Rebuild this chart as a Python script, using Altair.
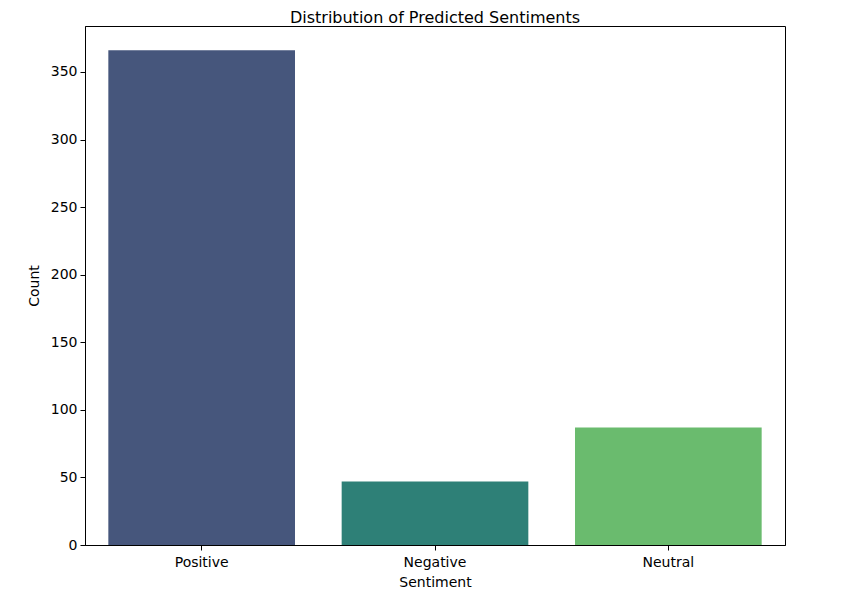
import altair as alt
import pandas as pd

sentiments = ["Positive", "Negative", "Neutral"]
counts = [366, 47, 87]
colors = ["#46567C", "#2E8077", "#6ABB6E"]

df = pd.DataFrame({"Sentiment": sentiments, "Count": counts})

chart = alt.Chart(df).mark_bar().encode(
    x=alt.X("Sentiment:N", sort=sentiments,
            scale=alt.Scale(paddingInner=0.2, paddingOuter=0.1),
            axis=alt.Axis(labelAngle=0, title="Sentiment")),
    y=alt.Y("Count:Q", scale=alt.Scale(domain=[0, 384], nice=False),
            axis=alt.Axis(values=[0, 50, 100, 150, 200, 250, 300, 350], title="Count")),
    color=alt.Color("Sentiment:N", scale=alt.Scale(domain=sentiments, range=colors), legend=None),
).properties(
    width=700, height=519,
    title=alt.TitleParams("Distribution of Predicted Sentiments", fontSize=16, font="DejaVu Sans",
                          fontWeight="normal", color="black", offset=0),
    autosize=alt.AutoSizeParams(type="none"),
    padding={"left": 77, "top": 18, "right": 40, "bottom": 50},
).configure_view(
    stroke="black", strokeWidth=1
).configure_axis(
    grid=False, domainColor="black", tickColor="black", tickSize=5,
    labelFont="DejaVu Sans", labelFontSize=14, labelColor="black",
    titleFont="DejaVu Sans", titleFontSize=14, titleFontWeight="normal", titleColor="black",
    labelPadding=3,
).configure_axisY(titlePadding=9).configure_axisX(titlePadding=6, labelPadding=5)

chart.save("out.html", embed_options={"renderer": "svg", "actions": False})
